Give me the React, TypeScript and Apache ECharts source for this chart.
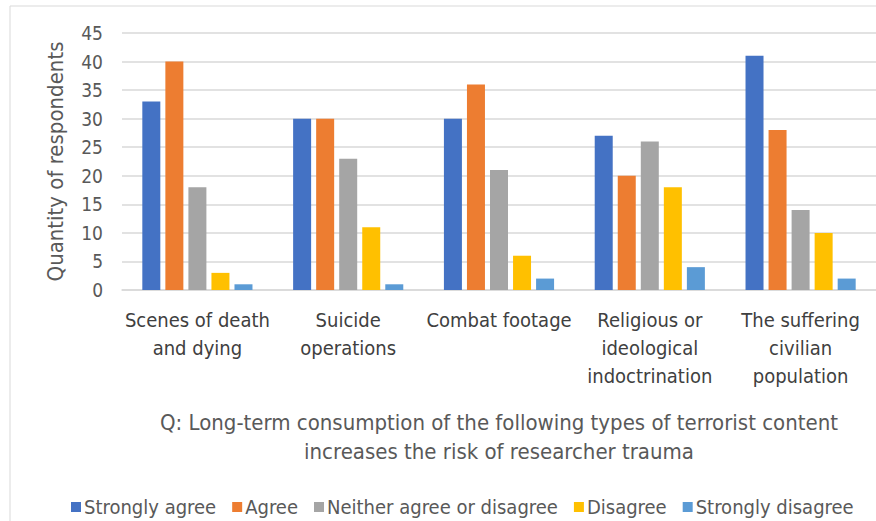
import React, { useEffect, useRef } from "react";
import * as echarts from "echarts";

const categories = [
  "Scenes of death\nand dying",
  "Suicide\noperations",
  "Combat footage",
  "Religious or\nideological\nindoctrination",
  "The suffering\ncivilian\npopulation",
];
const seriesNames = [
  "Strongly agree",
  "Agree",
  "Neither agree or disagree",
  "Disagree",
  "Strongly disagree",
];
const stronglyAgree = [33, 30, 30, 27, 41];
const agree = [40, 30, 36, 20, 28];
const neither = [18, 23, 21, 26, 14];
const disagree = [3, 11, 6, 18, 10];
const stronglyDisagree = [1, 1, 2, 4, 2];
const colors = ["#4472C4", "#ED7D31", "#A5A5A5", "#FFC000", "#5B9BD5"];
const yAxisTitle = "Quantity of respondents";
const xAxisTitle =
  "Q: Long-term consumption of the following types of terrorist content\nincreases the risk of researcher trauma";

const FONT = "'Liberation Sans Narrow', 'DejaVu Sans Condensed', sans-serif";

export default function App() {
  const ref = useRef<HTMLDivElement>(null);
  useEffect(() => {
    const chart = echarts.init(ref.current!, null, { renderer: "svg" });
    const data = [stronglyAgree, agree, neither, disagree, stronglyDisagree];
    chart.setOption({
      animation: false,
      backgroundColor: "#ffffff",
      textStyle: { fontFamily: FONT },
      grid: { left: 122, right: 0, top: 33, bottom: 231 },
      legend: {
        data: seriesNames,
        top: 492,
        left: 66,
        itemWidth: 10,
        itemHeight: 10,
        itemGap: 16,
        icon: "rect",
        textStyle: { fontFamily: FONT, fontSize: 20, color: "#595959", padding: [0, 0, 0, -2] },
      },
      xAxis: {
        type: "category",
        data: categories,
        axisLine: { show: true, lineStyle: { color: "#d9d9d9", width: 1.5 } },
        axisTick: { show: false },
        axisLabel: {
          interval: 0,
          margin: 16,
          fontFamily: FONT,
          fontSize: 20,
          lineHeight: 28,
          color: "#404040",
        },
      },
      yAxis: {
        type: "value",
        min: 0,
        max: 45,
        interval: 5,
        name: yAxisTitle,
        nameLocation: "middle",
        nameRotate: 90,
        nameGap: 56,
        nameTextStyle: { fontFamily: FONT, fontSize: 22, color: "#595959" },
        axisLine: { show: false },
        axisTick: { show: false },
        axisLabel: { fontFamily: FONT, fontSize: 19, color: "#595959", margin: 19 },
        splitLine: { lineStyle: { color: "#d9d9d9", width: 1.5 } },
      },
      graphic: [
        {
          type: "rect",
          shape: { x: 10, y: 6, width: 1000, height: 600 },
          style: { fill: "none", stroke: "#d9d9d9", lineWidth: 1 },
          silent: true,
        },
        {
          type: "text",
          x: 499,
          y: 408,
          style: {
            text: xAxisTitle,
            fontFamily: FONT,
            fontSize: 22,
            lineHeight: 29,
            fill: "#595959",
            align: "center",
            verticalAlign: "top",
          },
        },
      ],
      series: data.map((d, i) => ({
        name: seriesNames[i],
        type: "bar",
        data: d,
        barWidth: 18,
        barGap: "28%",
        itemStyle: { color: colors[i] },
      })),
    });
    return () => chart.dispose();
  }, []);
  return (
    <div
      ref={ref}
      style={{ position: "absolute", left: 0, top: 0, width: 876, height: 521 }}
    />
  );
}
